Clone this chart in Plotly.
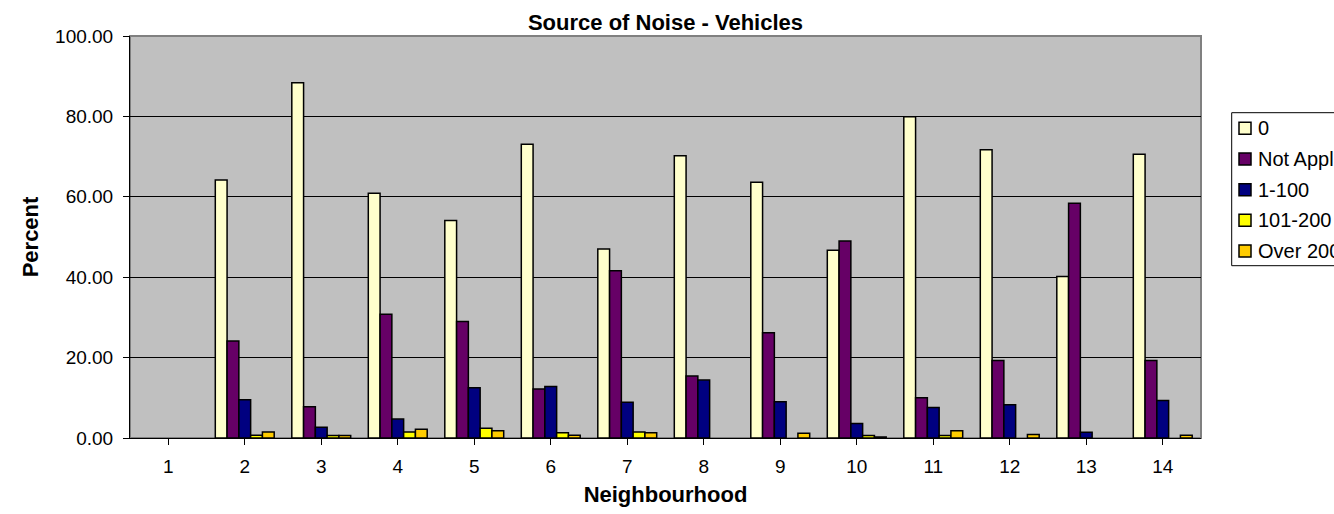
import plotly.graph_objects as go

neighbourhoods = [str(i) for i in range(1, 15)]
series_names = ["0", "Not Applicable", "1-100", "101-200", "Over 200"]
v_zero = [0, 64.2, 88.4, 60.9, 54.1, 73.1, 47.0, 70.2, 63.6, 46.7, 79.9, 71.7, 40.2, 70.6]
v_not_applicable = [0, 24.1, 7.8, 30.8, 29.0, 12.2, 41.6, 15.4, 26.2, 49.0, 10.0, 19.3, 58.4, 19.3]
v_1_100 = [0, 9.5, 2.7, 4.7, 12.5, 12.8, 8.9, 14.4, 9.0, 3.6, 7.6, 8.3, 1.4, 9.3]
v_101_200 = [0, 0.7, 0.6, 1.5, 2.4, 1.3, 1.5, 0, 0, 0.6, 0.6, 0, 0, 0]
v_over_200 = [0, 1.5, 0.6, 2.2, 1.8, 0.7, 1.3, 0, 1.2, 0.25, 1.8, 0.9, 0, 0.7]
colors = ["#FFFFCC", "#660066", "#000080", "#FFFF00", "#FFCC00"]

values = [v_zero, v_not_applicable, v_1_100, v_101_200, v_over_200]
y_ticks = [0, 20, 40, 60, 80, 100]

FONT = "Liberation Sans, Arial, sans-serif"

# figure geometry (body margin removed below, so page pixels == figure pixels)
W, H = 1334, 514
ML, MR, MT, MB = 130, 133, 36, 76
PW, PH = W - ML - MR, H - MT - MB


def px(page_x):
    return (page_x - ML) / PW


def py(page_y):
    return (MT + PH - page_y) / PH


fig = go.Figure()
for name, vals, col in zip(series_names, values, colors):
    fig.add_trace(go.Bar(
        x=neighbourhoods, y=[v if v else None for v in vals], name=name,
        marker=dict(color=col, line=dict(color="#000000", width=1.5)),
        showlegend=False,
    ))

fig.update_layout(
    width=W, height=H,
    barmode="group", bargap=0.23, bargroupgap=0,
    paper_bgcolor="#FFFFFF", plot_bgcolor="#C0C0C0",
    margin=dict(l=ML, r=MR, t=MT, b=MB, autoexpand=False),
    font=dict(family=FONT, color="#000000", size=19),
    title=dict(text="<b>Source of Noise - Vehicles</b>", x=0.5, xref="paper",
               xanchor="center", y=1 - 22 / H, yref="container", yanchor="middle",
               font=dict(size=22, family=FONT)),
    showlegend=False,
)
fig.update_xaxes(
    type="category", tickmode="array", tickvals=neighbourhoods, ticktext=neighbourhoods,
    ticks="outside", ticklen=6, tickcolor="#000000", ticklabelmode="period",
    ticklabelstandoff=5,
    showline=True, linecolor="#000000", linewidth=1, mirror=False,
    showgrid=False, tickfont=dict(size=19),
    title=dict(text="<b>Neighbourhood</b>", font=dict(size=22), standoff=10),
)
fig.update_yaxes(
    range=[0, 100], tickmode="array", tickvals=y_ticks,
    ticktext=[f"{v:.2f}" for v in y_ticks],
    ticks="outside", ticklen=6, tickcolor="#000000", ticklabelstandoff=6,
    showline=True, linecolor="#000000", linewidth=1,
    showgrid=True, gridcolor="#000000", gridwidth=1, zeroline=False,
    tickfont=dict(size=19),
    title=dict(text="<b>Percent</b>", font=dict(size=22), standoff=10),
)
# plot-area border (top/right) as in the reference
fig.add_shape(type="rect", xref="paper", yref="paper", x0=0, y0=0, x1=1, y1=1,
              line=dict(color="#808080", width=2), layer="below")

# legend box (partly cut off by the right edge, as in the reference)
fig.add_shape(type="rect", xref="paper", yref="paper",
              x0=px(1231.7), x1=px(1360), y0=py(265.7), y1=py(112.7),
              line=dict(color="#000000", width=1), fillcolor="#FFFFFF", layer="above")
item_y = [128.3, 159.0, 189.7, 220.3, 251.0]
for name, col, yc in zip(series_names, colors, item_y):
    fig.add_shape(type="rect", xref="paper", yref="paper",
                  x0=px(1239), x1=px(1251), y0=py(yc + 6), y1=py(yc - 6),
                  line=dict(color="#000000", width=1.5), fillcolor=col, layer="above")
    fig.add_annotation(text=name, xref="paper", yref="paper", x=px(1256), y=py(yc),
                       xanchor="left", yanchor="middle", showarrow=False,
                       font=dict(size=20, family=FONT, color="#000000"))

fig.write_html(
    "out.html",
    config={"displayModeBar": False},
    post_script="document.body.style.margin='0px';document.body.style.overflow='hidden';",
)
